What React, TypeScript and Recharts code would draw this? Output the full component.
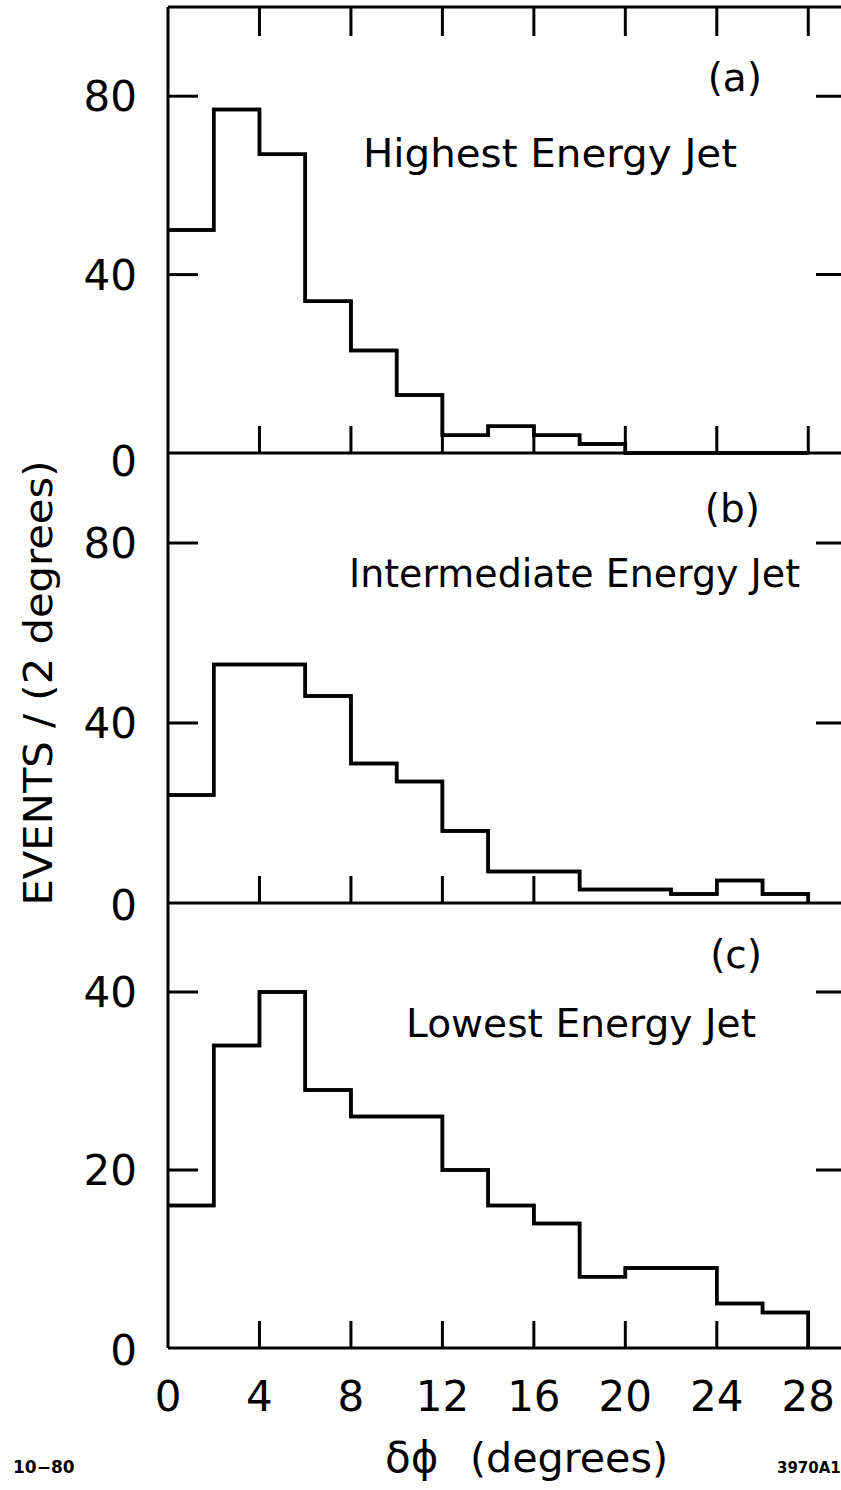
import React from "react";
import { LineChart, Line, XAxis, YAxis } from "recharts";

// bin edges in degrees, 2-degree bins
const binEdges = [0, 2, 4, 6, 8, 10, 12, 14, 16, 18, 20, 22, 24, 26, 28];

// events per bin, one entry per 2-degree bin from 0 to 28
const highestCounts = [50, 77, 67, 34, 23, 13, 4, 6, 4, 2, 0, 0, 0, 0];
const intermediateCounts = [24, 53, 53, 46, 31, 27, 16, 7, 7, 3, 3, 2, 5, 2];
const lowestCounts = [16, 34, 40, 29, 26, 26, 20, 16, 14, 8, 9, 9, 5, 4];

const xTicks = [0, 4, 8, 12, 16, 20, 24, 28];
const innerTicks = [4, 8, 12, 16, 20, 24, 28];
const yTicksTall = [0, 40, 80];
const yTicksShort = [0, 20, 40];

const FONT = "'DejaVu Sans', 'Liberation Sans', sans-serif";
const INK = "#000";
const W = 900;
const H = 1490;
const PLOT_LEFT = 168;
const PLOT_RIGHT = 854;
const X_AXIS_H = 1;

// step points for a stepAfter line; the last edge closes the outline at zero
function toSteps(counts: number[]) {
  return binEdges.map((x, i) => ({ x, n: i < counts.length ? counts[i] : 0 }));
}

const panels = [
  {
    id: "a",
    counts: highestCounts,
    yMax: 100,
    yTicks: yTicksTall,
    top: 7,
    bottom: 453,
    topTicks: innerTicks,
    bottomTicks: innerTicks,
    zeroDy: 8,
    xLabels: false,
  },
  {
    id: "b",
    counts: intermediateCounts,
    yMax: 100,
    yTicks: yTicksTall,
    top: 453,
    bottom: 903,
    topTicks: [] as number[],
    bottomTicks: [4, 8, 12, 16],
    zeroDy: 2,
    xLabels: false,
  },
  {
    id: "c",
    counts: lowestCounts,
    yMax: 50,
    yTicks: yTicksShort,
    top: 903,
    bottom: 1348,
    topTicks: [] as number[],
    bottomTicks: innerTicks,
    zeroDy: 2,
    xLabels: true,
  },
];

const tickText = {
  fontFamily: FONT,
  fontSize: 42,
  fill: INK,
};

function BottomTick(props: any) {
  const { x, y, payload, marks, showLabel } = props;
  const v = payload.value;
  return (
    <g>
      {marks.includes(v) && (
        <line x1={x} x2={x} y1={y} y2={y - 27} stroke={INK} strokeWidth={3} />
      )}
      {showLabel && (
        <text x={x} y={y + 63} textAnchor="middle" {...tickText}>
          {v}
        </text>
      )}
    </g>
  );
}

function TopTick(props: any) {
  const { x, y, payload, marks } = props;
  if (!marks.includes(payload.value)) return <g />;
  return <line x1={x} x2={x} y1={y} y2={y + 29} stroke={INK} strokeWidth={3} />;
}

function LeftTick(props: any) {
  const { x, y, payload, zeroDy } = props;
  const v = payload.value;
  return (
    <g>
      {v > 0 && <line x1={x} x2={x + 30} y1={y} y2={y} stroke={INK} strokeWidth={3} />}
      <text x={x - 31} y={y + 15 + (v === 0 ? zeroDy : 0)} textAnchor="end" {...tickText}>
        {v}
      </text>
    </g>
  );
}

function RightTick(props: any) {
  const { x, y, payload } = props;
  if (payload.value === 0) return <g />;
  return <line x1={x} x2={x - 38} y1={y} y2={y} stroke={INK} strokeWidth={3} />;
}

function Panel({ p }: { p: (typeof panels)[number] }) {
  const axisLine = { stroke: INK, strokeWidth: 3 };
  const data = toSteps(p.counts);
  return (
    <div style={{ position: "absolute", left: 0, top: 0 }}>
      <LineChart
        width={W}
        height={H}
        data={data}
        margin={{
          top: p.top - X_AXIS_H,
          bottom: H - p.bottom - X_AXIS_H,
          left: 0,
          right: 0,
        }}
      >
        <XAxis
          xAxisId="bottom"
          dataKey="x"
          type="number"
          domain={[0, 30]}
          ticks={xTicks}
          height={X_AXIS_H}
          tickSize={0}
          tickMargin={0}
          tickLine={false}
          axisLine={axisLine}
          interval={0}
          tick={<BottomTick marks={p.bottomTicks} showLabel={p.xLabels} />}
        />
        <XAxis
          xAxisId="top"
          orientation="top"
          dataKey="x"
          type="number"
          domain={[0, 30]}
          ticks={xTicks}
          height={X_AXIS_H}
          tickSize={0}
          tickMargin={0}
          tickLine={false}
          axisLine={p.id === "a" ? axisLine : false}
          interval={0}
          tick={<TopTick marks={p.topTicks} />}
        />
        <YAxis
          yAxisId="left"
          dataKey="n"
          type="number"
          domain={[0, p.yMax]}
          ticks={p.yTicks}
          width={PLOT_LEFT}
          tickSize={0}
          tickMargin={0}
          tickLine={false}
          axisLine={axisLine}
          interval={0}
          tick={<LeftTick zeroDy={p.zeroDy} />}
        />
        <YAxis
          yAxisId="right"
          orientation="right"
          dataKey="n"
          type="number"
          domain={[0, p.yMax]}
          ticks={p.yTicks}
          width={W - PLOT_RIGHT}
          tickSize={0}
          tickMargin={0}
          tickLine={false}
          axisLine={axisLine}
          interval={0}
          tick={<RightTick />}
        />
        {/* the right-hand frame carries its own ticks; this copy of the outline only binds that axis */}
        <Line
          xAxisId="top"
          yAxisId="right"
          type="stepAfter"
          dataKey="n"
          stroke={INK}
          strokeWidth={3.5}
          dot={false}
          activeDot={false}
          isAnimationActive={false}
        />
        <Line
          xAxisId="bottom"
          yAxisId="left"
          type="stepAfter"
          dataKey="n"
          stroke={INK}
          strokeWidth={3.5}
          dot={false}
          activeDot={false}
          isAnimationActive={false}
        />
      </LineChart>
    </div>
  );
}

const labelText = { fontFamily: FONT, fontSize: 39, fill: INK };
const noteText = { fontFamily: FONT, fontSize: 17, fontWeight: 700, fill: INK };

export default function App() {
  return (
    <div
      style={{
        position: "fixed",
        left: 0,
        top: 0,
        width: 841,
        height: H,
        overflow: "hidden",
        background: "#fff",
      }}
    >
      {panels.map((p) => (
        <Panel key={p.id} p={p} />
      ))}
      <svg
        width={841}
        height={H}
        style={{ position: "absolute", left: 0, top: 0, pointerEvents: "none" }}
      >
        <text x={762} y={91} textAnchor="end" {...labelText}>(a)</text>
        <text x={363} y={167} textLength={374} lengthAdjust="spacingAndGlyphs" {...labelText}>
          Highest Energy Jet
        </text>
        <text x={760} y={522} textAnchor="end" {...labelText}>(b)</text>
        <text x={349} y={587} textLength={451} lengthAdjust="spacingAndGlyphs" {...labelText}>
          Intermediate Energy Jet
        </text>
        <text x={762} y={968} textAnchor="end" {...labelText}>(c)</text>
        <text x={406} y={1037} textLength={350} lengthAdjust="spacingAndGlyphs" {...labelText}>
          Lowest Energy Jet
        </text>

        <text
          x={52}
          y={683}
          textAnchor="middle"
          textLength={445}
          lengthAdjust="spacingAndGlyphs"
          transform="rotate(-90, 52, 683)"
          {...labelText}
        >
          EVENTS / (2 degrees)
        </text>

        <text x={385} y={1472} {...labelText} fontSize={42}>δϕ</text>
        <text x={470} y={1472} textLength={198} lengthAdjust="spacingAndGlyphs" {...labelText} fontSize={40}>
          (degrees)
        </text>

        <text x={13} y={1473} {...noteText}>10−80</text>
        <text x={777} y={1473} {...noteText} fontSize={15}>3970A1</text>
      </svg>
    </div>
  );
}
